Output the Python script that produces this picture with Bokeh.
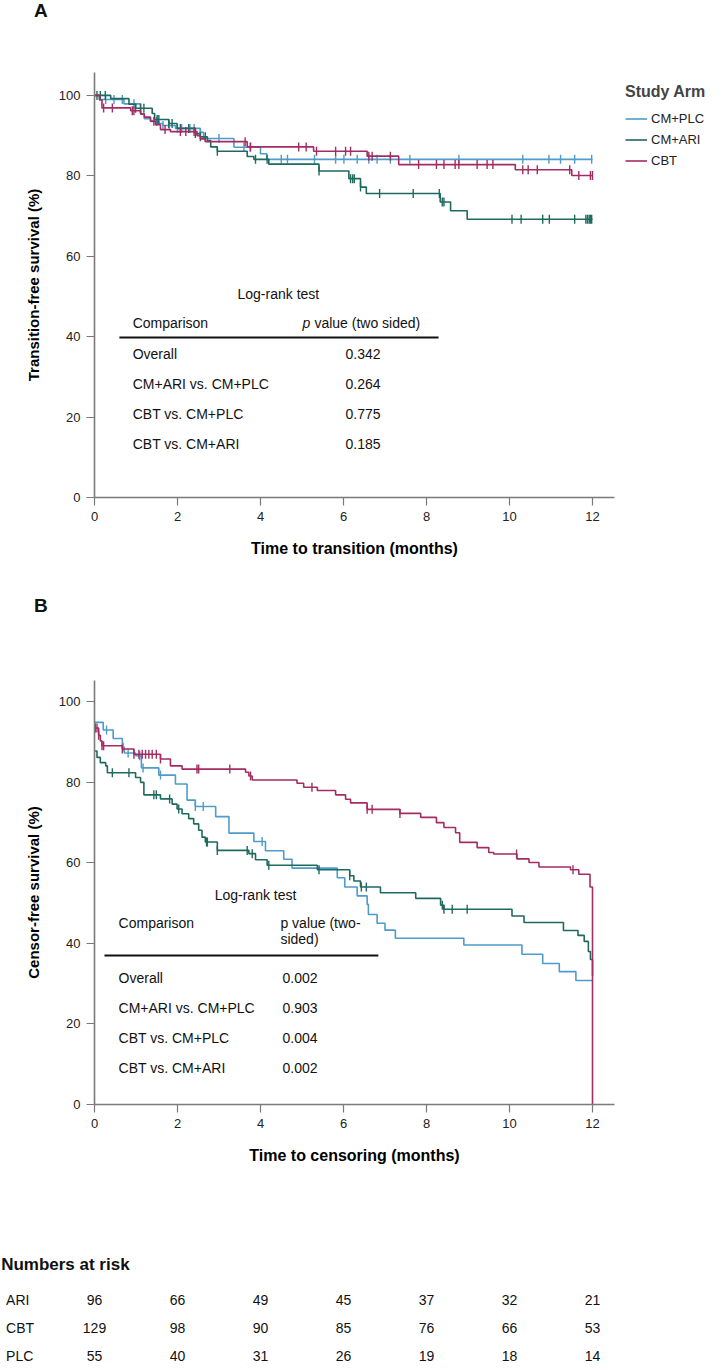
import numpy as np
from bokeh.plotting import figure
from bokeh.models import Label, Legend, LegendItem, Arrow, Range1d, FixedTicker
from bokeh.layouts import column
from bokeh.embed import file_html
from bokeh.resources import INLINE

FONT = "Liberation Sans"
ARMS = ["CM+PLC", "CM+ARI", "CBT"]
ARM_COLORS = ["#4f9bcb", "#1f6a5e", "#a32c63"]

# ---------------- Panel A: transition-free survival (%) ----------------
a_plc_t = [0, 0.12, 0.71, 1.11, 1.20, 1.35, 1.55, 1.65, 1.95, 2.55, 2.63, 3.36, 4.00, 4.15]
a_plc_s = [100, 99.0, 97.9, 95.4, 94.2, 93.5, 93.0, 92.5, 91.8, 90.8, 89.3, 87.1, 85.5, 84.1]
a_plc_c = [0.27, 0.47, 0.67, 0.95, 1.50, 1.65, 1.80, 2.00, 2.10, 2.30, 2.40, 2.55, 3.00, 3.60,
           3.75, 4.50, 4.65, 5.30, 5.81, 6.01, 6.33, 6.61, 6.81, 7.13, 7.60, 8.78, 10.32, 10.95,
           11.23, 11.57, 11.98]

a_ari_t = [0, 0.39, 0.83, 0.99, 1.39, 1.45, 1.79, 1.99, 2.43, 2.55, 2.72, 2.80, 2.96, 3.68,
           3.84, 4.20, 5.41, 6.13, 6.41, 6.55, 8.33, 8.58, 8.98]
a_ari_s = [100, 99.2, 97.8, 96.8, 95.5, 94.0, 93.0, 91.8, 90.5, 89.7, 88.8, 87.2, 86.1, 84.8,
           84.1, 82.9, 81.2, 79.3, 77.2, 75.6, 73.5, 71.3, 69.2]
a_ari_c = [0.06, 0.14, 0.26, 0.99, 1.11, 1.19, 1.51, 1.55, 1.79, 1.87, 2.07, 2.27, 2.43, 2.55,
           2.67, 2.96, 3.88, 4.16, 5.41, 6.17, 6.22, 6.26, 6.41, 6.87, 7.68, 8.31, 8.38, 8.42,
           10.06, 10.28, 10.80, 10.96, 11.57, 11.84, 11.88, 11.92, 11.95, 11.98]

a_cbt_t = [0, 0.12, 0.18, 0.87, 1.11, 1.20, 1.35, 1.47, 1.59, 1.83, 2.47, 2.55, 2.67, 3.68,
           5.28, 6.57, 7.33, 10.14, 11.50]
a_cbt_s = [100, 98.9, 96.9, 96.2, 95.4, 94.6, 93.6, 92.7, 91.5, 91.0, 90.0, 89.2, 88.5, 87.2,
           86.1, 84.9, 82.8, 81.5, 80.1]
a_cbt_c = [0.22, 0.43, 0.91, 0.95, 1.43, 1.70, 2.07, 2.20, 2.40, 3.63, 3.76, 4.92, 5.10, 5.35,
           5.81, 6.05, 6.17, 6.61, 6.69, 7.13, 7.81, 8.24, 8.42, 8.69, 8.78, 9.22, 9.46, 9.60,
           10.32, 10.45, 10.67, 11.45, 11.67, 11.95, 12.0]

# ---------------- Panel B: censor-free survival (%) ----------------
b_plc_t = [0, 0.21, 0.45, 0.67, 0.72, 0.99, 1.13, 1.55, 1.95, 2.23, 2.43, 2.92, 3.24, 3.84,
           4.12, 4.56, 4.76, 5.85, 6.03, 6.33, 6.57, 6.60, 6.81, 7.00, 7.25, 8.90, 10.30, 10.80,
           11.20, 11.60]
b_plc_s = [94.9, 93.0, 90.9, 88.7, 87.3, 86.6, 83.6, 81.8, 79.6, 75.6, 74.0, 71.5, 67.4, 65.3,
           63.0, 60.9, 58.7, 56.3, 54.0, 51.8, 49.7, 47.2, 45.0, 43.3, 41.3, 39.6, 37.3, 35.0,
           33.0, 30.8]
b_plc_c = [0.29, 0.69, 0.81, 1.09, 1.17, 1.59, 2.43, 2.62, 4.04]

b_ari_t = [0, 0.06, 0.14, 0.27, 0.31, 0.99, 1.11, 1.19, 1.59, 1.87, 1.99, 2.11, 2.27, 2.39,
           2.51, 2.59, 2.67, 2.96, 3.72, 3.88, 4.16, 5.37, 6.15, 6.25, 6.41, 6.89, 7.74, 8.34,
           8.42, 10.06, 10.35, 11.30, 11.65, 11.80, 11.90, 11.95, 12.0]
b_ari_s = [87.8, 86.2, 84.9, 84.1, 82.4, 81.2, 80.0, 76.9, 75.9, 74.6, 73.4, 72.2, 71.0, 69.7,
           68.1, 66.4, 65.2, 63.1, 62.3, 60.8, 59.4, 58.3, 56.8, 55.5, 54.0, 52.6, 51.2, 49.5,
           48.5, 46.8, 45.2, 43.2, 42.0, 40.5, 38.0, 36.0, 32.0]
b_ari_c = [0.43, 0.83, 1.43, 1.49, 1.81, 2.03, 2.70, 2.72, 2.96, 3.68, 3.80, 4.20, 5.41, 6.15,
           6.43, 6.55, 8.38, 8.42, 8.62, 8.98]

b_cbt_t = [0, 0.10, 0.14, 0.18, 0.67, 0.95, 1.59, 1.83, 2.11, 3.64, 3.72, 3.80, 4.88, 5.04,
           5.37, 5.81, 6.05, 6.17, 6.57, 7.36, 7.86, 8.24, 8.42, 8.70, 8.80, 9.22, 9.50, 9.62,
           10.18, 10.47, 10.71, 11.47, 11.67, 11.94, 12.0]
b_cbt_s = [93.5, 91.7, 90.3, 89.1, 88.3, 87.0, 85.8, 84.1, 83.3, 82.5, 81.6, 80.6, 79.8, 78.8,
           78.0, 76.9, 75.8, 74.9, 73.3, 72.3, 71.3, 70.0, 68.8, 67.5, 65.1, 63.8, 62.6, 62.2,
           61.0, 60.1, 59.0, 58.3, 57.2, 54.0, 0.0]
b_cbt_c = [0.02, 0.06, 0.10, 0.18, 0.22, 0.67, 0.95, 1.07, 1.15, 1.23, 1.31, 1.39, 1.49, 1.59,
           2.47, 2.51, 3.26, 3.76, 5.24, 6.57, 6.69, 7.36, 10.17, 11.53]

# ---------------- Log-rank tables ----------------
lr_comparisons = ["Overall", "CM+ARI vs. CM+PLC", "CBT vs. CM+PLC", "CBT vs. CM+ARI"]
lr_p_a = ["0.342", "0.264", "0.775", "0.185"]
lr_p_b = ["0.002", "0.903", "0.004", "0.002"]

# ---------------- Numbers at risk ----------------
risk_months = [0, 2, 4, 6, 8, 10, 12]
risk_arms = ["ARI", "CBT", "PLC"]
risk_ari = [96, 66, 49, 45, 37, 32, 21]
risk_cbt = [129, 98, 90, 85, 76, 66, 53]
risk_plc = [55, 40, 31, 26, 19, 18, 14]

x_ticks = [0, 2, 4, 6, 8, 10, 12]
y_ticks = [0, 20, 40, 60, 80, 100]

FOLLOW_UP = 12.0
PX_PER_MONTH = 41.5
LEFT = 94
FRAME_W = 520
FULL_W = 718


def surv_at(ts, ss, c):
    ts = np.asarray(ts)
    ss = np.asarray(ss)
    idx = np.searchsorted(ts, np.asarray(c), side="right") - 1
    return ss[np.clip(idx, 0, len(ss) - 1)]


def txt(p, x, y, text, size="14px", style="normal", align="left", baseline="middle", x_offset=0):
    p.add_layout(Label(x=x, y=y, text=text, text_font=FONT, text_font_size=size,
                       text_font_style=style, text_align=align, text_baseline=baseline,
                       text_color="#111111", x_offset=x_offset))


def strip(height):
    """A full-width, axis-less strip whose x scale matches the panels' month scale."""
    s = figure(frame_width=FULL_W, frame_height=height, output_backend="svg",
               toolbar_location=None,
               x_range=Range1d(-LEFT / PX_PER_MONTH, (FULL_W - LEFT) / PX_PER_MONTH),
               y_range=Range1d(0, height), min_border=0, frame_align=False)
    s.axis.visible = False
    s.grid.visible = False
    s.outline_line_color = None
    return s


def make_panel(top, frame_h, bottom, ymax, xlabel, ylabel):
    p = figure(frame_width=FRAME_W, frame_height=frame_h,
               x_range=Range1d(0, FRAME_W / PX_PER_MONTH), y_range=Range1d(0, ymax),
               output_backend="svg", toolbar_location=None,
               min_border_left=LEFT, min_border_right=100,
               min_border_top=top, min_border_bottom=bottom)
    p.outline_line_color = None
    p.grid.visible = False
    p.background_fill_color = "white"
    p.border_fill_color = "white"
    p.xaxis.ticker = FixedTicker(ticks=x_ticks)
    p.yaxis.ticker = FixedTicker(ticks=y_ticks)
    for ax in (p.xaxis[0], p.yaxis[0]):
        ax.axis_line_color = "#7a7a7a"
        ax.axis_line_width = 1.6
        ax.major_tick_line_color = "#7a7a7a"
        ax.major_tick_line_width = 1.2
        ax.major_tick_out = 8
        ax.major_tick_in = 0
        ax.minor_tick_line_color = None
        ax.major_label_text_font = FONT
        ax.major_label_text_font_size = "13px"
        ax.major_label_text_color = "#222222"
        ax.major_label_standoff = 6
        ax.axis_label_text_font = FONT
        ax.axis_label_text_font_style = "bold"
        ax.axis_label_text_color = "black"
    p.xaxis.axis_label = xlabel
    p.xaxis.axis_label_text_font_size = "16px"
    p.xaxis.axis_label_standoff = 16
    p.yaxis.axis_label = ylabel
    p.yaxis.axis_label_text_font_size = "15px"
    p.yaxis.axis_label_standoff = 14
    return p


def draw_curves(p, curves):
    rends = []
    for (ts, ss, cs), color in zip(curves, ARM_COLORS):
        xs = list(ts)
        ys = list(ss)
        if xs[-1] < FOLLOW_UP:
            xs.append(FOLLOW_UP)
            ys.append(ys[-1])
        r = p.step(xs, ys, mode="after", line_color=color, line_width=1.6)
        p.scatter(cs, surv_at(ts, ss, cs), marker="dash", angle=np.pi / 2, size=9,
                  line_color=color, line_width=1.4)
        rends.append(r)
    return rends


# ---------------- Heading A ----------------
headA = strip(40)
txt(headA, -1.29, 30, "A", size="19px", style="bold", align="center")

# ---------------- Figure A ----------------
pA = make_panel(32, 425, 93, 105.7, "Time to transition (months)", "Transition-free survival (%)")
rendsA = draw_curves(pA, [(a_plc_t, a_plc_s, a_plc_c), (a_ari_t, a_ari_s, a_ari_c),
                          (a_cbt_t, a_cbt_s, a_cbt_c)])

legend = Legend(items=[LegendItem(label=a, renderers=[r]) for a, r in zip(ARMS, rendsA)],
                location="top_left", title="Study Arm")
legend.title_text_font = FONT
legend.title_text_font_style = "bold"
legend.title_text_font_size = "16px"
legend.title_standoff = 7
legend.label_text_font = FONT
legend.label_text_font_size = "13px"
legend.label_text_color = "#222222"
legend.background_fill_alpha = 0
legend.border_line_color = None
legend.padding = 0
legend.margin = 11
legend.spacing = 0
legend.label_height = 21
legend.glyph_height = 21
legend.glyph_width = 22
legend.label_standoff = 4
pA.add_layout(legend, "right")

txt(pA, 4.43, 50.7, "Log-rank test", align="center")
txt(pA, 0.92, 43.3, "Comparison")
txt(pA, 5.01, 43.3, "p", style="italic")
txt(pA, 5.01, 43.3, "value (two sided)", x_offset=12)
pA.add_layout(Arrow(end=None, x_start=0.60, y_start=39.8, x_end=8.29, y_end=39.8,
                    line_color="#111111", line_width=2))
for i, (cmp_, pv) in enumerate(zip(lr_comparisons, lr_p_a)):
    yy = 35.8 - 7.46 * i
    txt(pA, 0.92, yy, cmp_)
    txt(pA, 6.05, yy, pv)

# ---------------- Heading B ----------------
headB = strip(30)
txt(headB, -1.29, 15, "B", size="19px", style="bold", align="center")

# ---------------- Figure B ----------------
pB = make_panel(60, 424, 71, 105.3, "Time to censoring (months)", "Censor-free survival (%)")
draw_curves(pB, [(b_plc_t, b_plc_s, b_plc_c), (b_ari_t, b_ari_s, b_ari_c),
                 (b_cbt_t, b_cbt_s, b_cbt_c)])

txt(pB, 3.88, 52.0, "Log-rank test", align="center")
txt(pB, 0.58, 45.0, "Comparison")
txt(pB, 4.48, 45.0, "p value (two-")
txt(pB, 4.48, 41.0, "sided)")
pB.add_layout(Arrow(end=None, x_start=0.24, y_start=37.0, x_end=6.84, y_end=37.0,
                    line_color="#111111", line_width=2))
for i, (cmp_, pv) in enumerate(zip(lr_comparisons, lr_p_b)):
    yy = 31.5 - 7.46 * i
    txt(pB, 0.58, yy, cmp_)
    txt(pB, 4.53, yy, pv)

# ---------------- Numbers at risk ----------------
pC = strip(192)
txt(pC, -2.25, 103, "Numbers at risk", size="17px", style="bold")
for j, (arm, row) in enumerate(zip(risk_arms, [risk_ari, risk_cbt, risk_plc])):
    yy = 68 - 28 * j
    txt(pC, -2.13, yy, arm)
    for m, n in zip(risk_months, row):
        txt(pC, m, yy, str(n), align="center")

layout = column(headA, pA, headB, pB, pC, spacing=0)
open("out.html", "w").write(file_html(layout, INLINE))
